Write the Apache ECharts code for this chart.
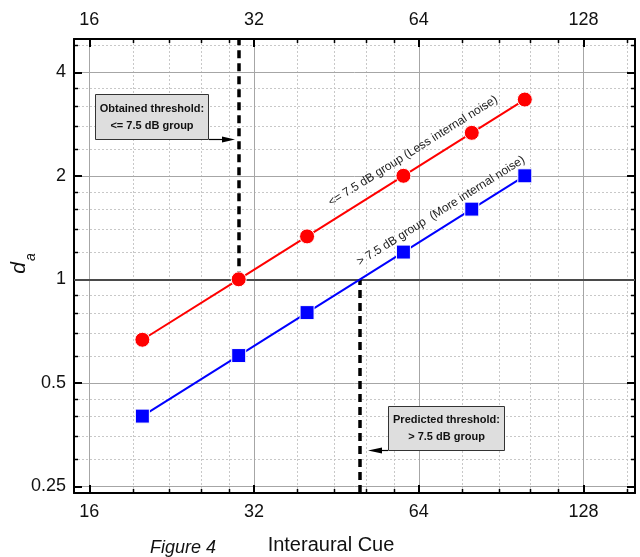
<!DOCTYPE html>
<html><head><meta charset="utf-8">
<script src="https://cdn.jsdelivr.net/npm/echarts@6/dist/echarts.min.js"></script>
<style>html,body{margin:0;padding:0;background:#fff}#c{width:640px;height:557px}</style>
</head><body><div id="c"></div>
<script>
// ---- data ----
const cueValues = [20, 30, 40, 60, 80, 100];
const lessNoiseDa = [0.667, 1.0, 1.333, 2.0, 2.667, 3.333];
const moreNoiseDa = [0.40, 0.60, 0.80, 1.20, 1.60, 2.00];
const xTickLabels = [16, 32, 64, 128];
const yTickLabels = [0.25, 0.5, 1, 2, 4];
const xMinorTicks = [19.2, 22.4, 25.6, 28.8, 38.4, 44.8, 51.2, 57.6, 76.8, 89.6, 102.4, 115.2, 153.6];
const yMinorTicks = [0.3, 0.35, 0.4, 0.45, 0.6, 0.7, 0.8, 0.9, 1.2, 1.4, 1.6, 1.8, 2.4, 2.8, 3.2, 3.6, 4.8];
const obtainedThreshold = 30;
const predictedThreshold = 50;
const referenceDa = 1;
const xRange = [15, 159];
const yRange = [0.239, 5.0];

const FONT = 'Liberation Sans, Arial, sans-serif';
const chart = echarts.init(document.getElementById('c'), null, {renderer: 'canvas'});

// grid items for custom series: [x, y, kind]
const gridItems = [];
xMinorTicks.forEach(v => gridItems.push([v, 1, 0]));
yMinorTicks.forEach(v => gridItems.push([20, v, 1]));
xTickLabels.forEach(v => gridItems.push([v, 1, 2]));
yTickLabels.filter(v => v !== referenceDa).forEach(v => gridItems.push([20, v, 3]));

const minorStyle = {stroke: '#c8c8c8', lineWidth: 1, lineDash: [2, 2]};
const majorStyle = {stroke: '#a6a6a6', lineWidth: 1};
const tickStyle = {stroke: '#000', lineWidth: 1.5};

function renderGrid(params, api) {
  const cs = params.coordSys;
  const kind = api.value(2);
  const children = [];
  if (kind === 0 || kind === 2) {
    const px = Math.round(api.coord([api.value(0), 1])[0]) + 0.5;
    children.push({type: 'line', shape: {x1: px, y1: cs.y, x2: px, y2: cs.y + cs.height}, style: kind === 0 ? minorStyle : majorStyle});
    if (kind === 0) {
      children.push({type: 'line', shape: {x1: px, y1: cs.y, x2: px, y2: cs.y + 4}, style: tickStyle});
      children.push({type: 'line', shape: {x1: px, y1: cs.y + cs.height, x2: px, y2: cs.y + cs.height - 4}, style: tickStyle});
    }
  } else {
    const py = Math.round(api.coord([20, api.value(1)])[1]) + 0.5;
    children.push({type: 'line', shape: {x1: cs.x, y1: py, x2: cs.x + cs.width, y2: py}, style: kind === 1 ? minorStyle : majorStyle});
    if (kind === 1) {
      children.push({type: 'line', shape: {x1: cs.x, y1: py, x2: cs.x + 4, y2: py}, style: tickStyle});
      children.push({type: 'line', shape: {x1: cs.x + cs.width, y1: py, x2: cs.x + cs.width - 4, y2: py}, style: tickStyle});
    }
  }
  return {type: 'group', children};
}

function xAxisCfg(pos, showLabels) {
  return {
    type: 'log', logBase: 2, position: pos, min: xRange[0], max: xRange[1],
    axisLine: {show: true, onZero: false, lineStyle: {color: '#000', width: 2}},
    axisTick: {show: true, inside: true, length: 8, lineStyle: {color: '#000', width: 2}},
    axisLabel: {show: showLabels, showMinLabel: false, showMaxLabel: false, margin: 10,
      fontSize: 18, fontFamily: FONT, color: '#111'},
    splitLine: {show: false}, minorTick: {show: false}
  };
}
function yAxisCfg(pos, showLabels) {
  return {
    type: 'log', logBase: 2, position: pos, min: yRange[0], max: yRange[1],
    axisLine: {show: true, onZero: false, lineStyle: {color: '#000', width: 2}},
    axisTick: {show: true, inside: true, length: 8, lineStyle: {color: '#000', width: 2}},
    axisLabel: {show: showLabels, showMinLabel: false, showMaxLabel: false, margin: 8,
      fontSize: 18, fontFamily: FONT, color: '#111'},
    splitLine: {show: false}, minorTick: {show: false}
  };
}

const dashStyle = {color: '#000', width: 3.5, type: [8, 5]};

const option = {
  animation: false,
  backgroundColor: '#fff',
  grid: {left: 74, right: 5, top: 39, bottom: 64},
  xAxis: [xAxisCfg('bottom', true), xAxisCfg('top', true)],
  yAxis: [yAxisCfg('left', true), yAxisCfg('right', false)],
  series: [
    {type: 'custom', renderItem: renderGrid, data: gridItems, silent: true, z: 0, clip: false},
    {
      type: 'line', name: 'less', data: cueValues.map((x, i) => [x, lessNoiseDa[i]]),
      symbol: 'circle', symbolSize: 15, itemStyle: {color: '#ff0000', borderColor: '#fff', borderWidth: 1},
      lineStyle: {color: '#ff0000', width: 2}, z: 5,
      markLine: {
        silent: true, symbol: ['none', 'none'], label: {show: false}, z: 3,
        data: [
          [{yAxis: referenceDa, x: 74, lineStyle: {color: '#4a4a4a', width: 2, type: 'solid'}}, {yAxis: referenceDa, x: 635}],
          [{coord: [obtainedThreshold, referenceDa], lineStyle: dashStyle}, {coord: [obtainedThreshold, yRange[1]]}],
          [{coord: [predictedThreshold, yRange[0]], lineStyle: dashStyle}, {coord: [predictedThreshold, referenceDa]}]
        ]
      }
    },
    {
      type: 'line', name: 'more', data: cueValues.map((x, i) => [x, moreNoiseDa[i]]),
      symbol: 'rect', symbolSize: 14, itemStyle: {color: '#0000ff', borderColor: '#fff', borderWidth: 1},
      lineStyle: {color: '#0000ff', width: 2}, z: 5
    }
  ]
};
chart.setOption(option);

// annotations
const ang = Math.atan2(103.55, 164.9);
const boxText = {fontFamily: FONT, fontSize: 11, fontWeight: 'bold', fill: '#111', align: 'center', verticalAlign: 'middle', lineHeight: 17};
chart.setOption({
  graphic: [
    {type: 'rect', shape: {x: 95.5, y: 94.5, width: 113, height: 45}, style: {fill: '#dedede', stroke: '#333', lineWidth: 1}, z: 10},
    {type: 'text', x: 152, y: 117, style: Object.assign({text: 'Obtained threshold:\n<= 7.5 dB group'}, boxText), z: 11},
    {type: 'line', shape: {x1: 209, y1: 139.5, x2: 224, y2: 139.5}, style: {stroke: '#000', lineWidth: 1.2}, z: 11},
    {type: 'polygon', shape: {points: [[235, 139.5], [222, 136.5], [222, 142.5]]}, style: {fill: '#000'}, z: 11},

    {type: 'rect', shape: {x: 388.5, y: 406.5, width: 116, height: 44}, style: {fill: '#dedede', stroke: '#333', lineWidth: 1}, z: 10},
    {type: 'text', x: 446.5, y: 428.5, style: Object.assign({text: 'Predicted threshold:\n> 7.5 dB group'}, boxText), z: 11},
    {type: 'line', shape: {x1: 388, y1: 450.5, x2: 380, y2: 450.5}, style: {stroke: '#000', lineWidth: 1.2}, z: 11},
    {type: 'polygon', shape: {points: [[368, 450.5], [382, 447.5], [382, 453.5]]}, style: {fill: '#000'}, z: 11},

    {type: 'text', x: 413, y: 151, rotation: ang, style: {text: '<= 7.5 dB group (Less internal noise)', fontFamily: FONT, fontSize: 12, fill: '#222', align: 'center', verticalAlign: 'middle'}, z: 11},
    {type: 'text', x: 441, y: 211, rotation: ang, style: {text: '> 7.5 dB group  (More internal noise)', fontFamily: FONT, fontSize: 12, fill: '#222', align: 'center', verticalAlign: 'middle'}, z: 11},

    {type: 'text', x: 19, y: 268, rotation: Math.PI / 2, style: {text: 'd', fontFamily: FONT, fontSize: 21, fontStyle: 'italic', fill: '#111', align: 'center', verticalAlign: 'middle'}, z: 11},
    {type: 'text', x: 31, y: 257, rotation: Math.PI / 2, style: {text: 'a', fontFamily: FONT, fontSize: 14, fontStyle: 'italic', fill: '#111', align: 'center', verticalAlign: 'middle'}, z: 11},

    {type: 'text', x: 331, y: 545, style: {text: 'Interaural Cue', fontFamily: FONT, fontSize: 20, fill: '#111', align: 'center', verticalAlign: 'middle'}, z: 11},
    {type: 'text', x: 183, y: 548, style: {text: 'Figure 4', fontFamily: FONT, fontSize: 18, fontStyle: 'italic', fill: '#111', align: 'center', verticalAlign: 'middle'}, z: 11}
  ]
});
</script></body></html>
